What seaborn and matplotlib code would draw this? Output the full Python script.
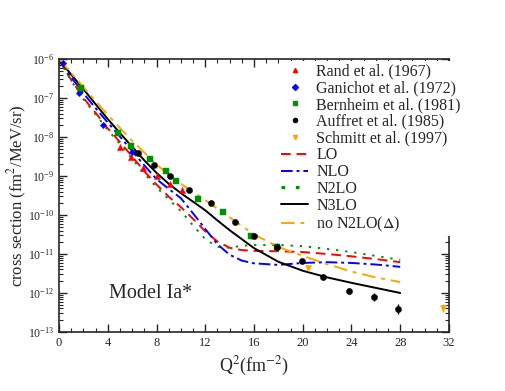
import numpy as np
import pandas as pd
import matplotlib
matplotlib.use("Agg")
import matplotlib.pyplot as plt
import matplotlib.ticker as mticker
from matplotlib.lines import Line2D
import seaborn as sns

# ---------------- data (log10 of cross section) ----------------
q2_curve = [0, 1, 2, 3, 4, 5, 6, 7, 8, 9, 10, 11, 12, 13, 14, 15, 16, 18, 20, 22, 24, 26, 28]
lo_log = [-6.02, -6.54, -7.0, -7.38, -7.78, -8.13, -8.5, -8.88, -9.22, -9.53, -9.8, -10.1,
          -10.42, -10.68, -10.84, -10.9, -10.92, -10.93, -10.95, -11.0, -11.06, -11.13, -11.21]
nlo_log = [-6.02, -6.47, -6.88, -7.26, -7.63, -7.99, -8.36, -8.73, -9.08, -9.33, -9.57, -9.96,
           -10.36, -10.75, -11.02, -11.17, -11.24, -11.28, -11.23, -11.21, -11.23, -11.27, -11.33]
n2lo_log = [-6.02, -6.56, -7.03, -7.42, -7.82, -8.18, -8.56, -8.94, -9.29, -9.6, -9.9, -10.27,
            -10.62, -10.82, -10.84, -10.79, -10.77, -10.77, -10.8, -10.87, -10.95, -11.05, -11.15]
n3lo_log = [-6.02, -6.4, -6.77, -7.16, -7.54, -7.9, -8.25, -8.6, -8.92, -9.2, -9.44, -9.66,
            -9.88, -10.14, -10.39, -10.62, -10.85, -11.2, -11.43, -11.6, -11.74, -11.87, -12.0]
nodelta_log = [-6.0, -6.36, -6.72, -7.08, -7.43, -7.77, -8.1, -8.4, -8.7, -8.97, -9.2, -9.41,
               -9.62, -9.84, -10.06, -10.28, -10.5, -10.82, -11.05, -11.26, -11.45, -11.6, -11.72]

rand_q2 = [5.0, 5.9, 6.9, 8.0, 9.1, 10.1]
rand_log = [-8.26, -8.5, -8.8, -8.99, -9.2, -9.36]

gan_q2 = [0.3, 1.6, 3.6, 6.0]
gan_log = [-6.1, -6.87, -7.7, -8.38]

bern_q2 = [1.8, 4.8, 5.9, 7.47, 8.78, 9.6, 11.4, 13.45, 15.75, 17.88]
bern_log = [-6.74, -7.9, -8.23, -8.56, -8.87, -9.13, -9.59, -9.92, -10.54, -10.82]
bern_err = [0, 0, 0, 0, 0, 0, 0, 0, 0.08, 0.1]

auf_q2 = [6.48, 7.79, 9.1, 10.66, 12.47, 14.44, 16.0, 17.9, 19.93, 21.66, 23.79, 25.84, 27.8]
auf_log = [-8.41, -8.72, -9.0, -9.36, -9.69, -10.18, -10.54, -10.82, -11.18, -11.59, -11.95, -12.1, -12.41]
auf_err = [0, 0, 0, 0, 0, 0, 0.03, 0.05, 0.04, 0.04, 0.07, 0.1, 0.13]

sch_q2 = [20.43, 31.5]
sch_log = [-11.36, -12.38]
sch_err = [0.06, 0.1]

# ---------------- style ----------------
sns.set_style("ticks")
plt.rcParams["font.family"] = ["Liberation Serif", "DejaVu Serif"]
plt.rcParams["mathtext.fontset"] = "stix"
plt.rcParams["xtick.direction"] = "in"
plt.rcParams["ytick.direction"] = "in"

fig = plt.figure(figsize=(5.05, 3.91), dpi=100)
ax = fig.add_axes([0.117, 0.151, 0.772, 0.698])

def lin(v):
    return 10.0 ** np.asarray(v, dtype=float)

C_RED = "#ff0000"
C_BLUE = "#0000ff"
C_GREEN = "#009000"
C_BLACK = "#000000"
C_ORANGE = "#ffa500"

# curves
curves = [
    ("LO", lo_log, C_RED, (0, (5, 3))),
    ("NLO", nlo_log, C_BLUE, (0, (6, 2, 1.5, 2))),
    ("N2LO", n2lo_log, C_GREEN, (0, (1.2, 3.5))),
    ("N3LO", n3lo_log, C_BLACK, "-"),
    ("no N2LO($\\Delta$)", nodelta_log, C_ORANGE, (0, (7, 3, 2, 3))),
]
line_handles = []
for name, vals, col, ls in curves:
    df = pd.DataFrame({"Q2": q2_curve, "sigma": lin(vals)})
    sns.lineplot(data=df, x="Q2", y="sigma", ax=ax, color=col, linewidth=1.4,
                 linestyle=ls, zorder=2, legend=False)
    lw = 2.2 if name == "N2LO" else 1.4
    line_handles.append(Line2D([0], [0], color=col, linestyle=ls, linewidth=lw, label=name))

# data points
def errs(logv, e):
    y = lin(logv)
    e = np.asarray(e, dtype=float)
    return y, np.vstack([y - y * 10 ** (-e), y * 10 ** e - y])

y, ye = errs(bern_log, bern_err)
ax.errorbar(bern_q2, y, yerr=ye, fmt="none", ecolor=C_GREEN, elinewidth=1.0, zorder=3)
y, ye = errs(auf_log, auf_err)
ax.errorbar(auf_q2, y, yerr=ye, fmt="none", ecolor=C_BLACK, elinewidth=1.0, zorder=3)
y, ye = errs(sch_log, sch_err)
ax.errorbar(sch_q2, y, yerr=ye, fmt="none", ecolor=C_ORANGE, elinewidth=1.0, zorder=3)

pts = [
    ("Rand et al. (1967)", rand_q2, rand_log, C_RED, "^", 20),
    ("Ganichot et al. (1972)", gan_q2, gan_log, C_BLUE, "D", 11),
    ("Bernheim et al. (1981)", bern_q2, bern_log, C_GREEN, "s", 16),
    ("Auffret et al. (1985)", auf_q2, auf_log, C_BLACK, "o", 20),
    ("Schmitt et al. (1997)", sch_q2, sch_log, C_ORANGE, "v", 20),
]
pt_handles = []
for name, xs, ls_, col, mk, s in pts:
    df = pd.DataFrame({"Q2": xs, "sigma": lin(ls_)})
    sns.scatterplot(data=df, x="Q2", y="sigma", ax=ax, color=col, marker=mk, s=s,
                    edgecolor=col, linewidth=0.3, zorder=4, legend=False)
    pt_handles.append(Line2D([0], [0], color=col, marker=mk, linestyle="none",
                             markersize=3.0, label=name))

# axes
ax.set_yscale("log")
ax.set_xlim(0, 32)
ax.set_ylim(1e-13, 1e-6)
ax.xaxis.set_major_locator(mticker.MultipleLocator(4))
ax.xaxis.set_minor_locator(mticker.MultipleLocator(1))
ax.yaxis.set_major_locator(mticker.LogLocator(base=10, numticks=20))
ax.yaxis.set_minor_locator(mticker.LogLocator(base=10, subs=np.arange(2, 10), numticks=20))
ax.yaxis.set_minor_formatter(mticker.NullFormatter())
ax.tick_params(which="both", direction="in", top=True, right=True)
ax.tick_params(axis="x", labelsize=9)
ax.tick_params(axis="y", labelsize=8.5)
ax.tick_params(which="major", length=6, width=1.0)
ax.tick_params(which="minor", length=3, width=0.8)
for sp in ax.spines.values():
    sp.set_linewidth(1.2)

ax.set_xlabel("Q$^2$(fm$^{-2}$)", fontsize=13, labelpad=4)
ax.set_ylabel("cross section (fm$^2$/MeV/sr)", fontsize=12)
ax.yaxis.set_label_coords(-0.077, 0.5)

ax.text(0.128, 0.125, "Model Ia*", transform=ax.transAxes, fontsize=14.5,
        ha="left", va="baseline")

leg = ax.legend(handles=pt_handles + line_handles, loc="upper right", frameon=True,
                fontsize=11.5, labelspacing=0.05, handlelength=1.7, handletextpad=0.5,
                borderpad=0.15, borderaxespad=0.0, bbox_to_anchor=(1.037, 0.993),
                fancybox=False, framealpha=1.0, facecolor="white", edgecolor="none")
leg.set_zorder(10)

fig.savefig("out.png", dpi=100)
